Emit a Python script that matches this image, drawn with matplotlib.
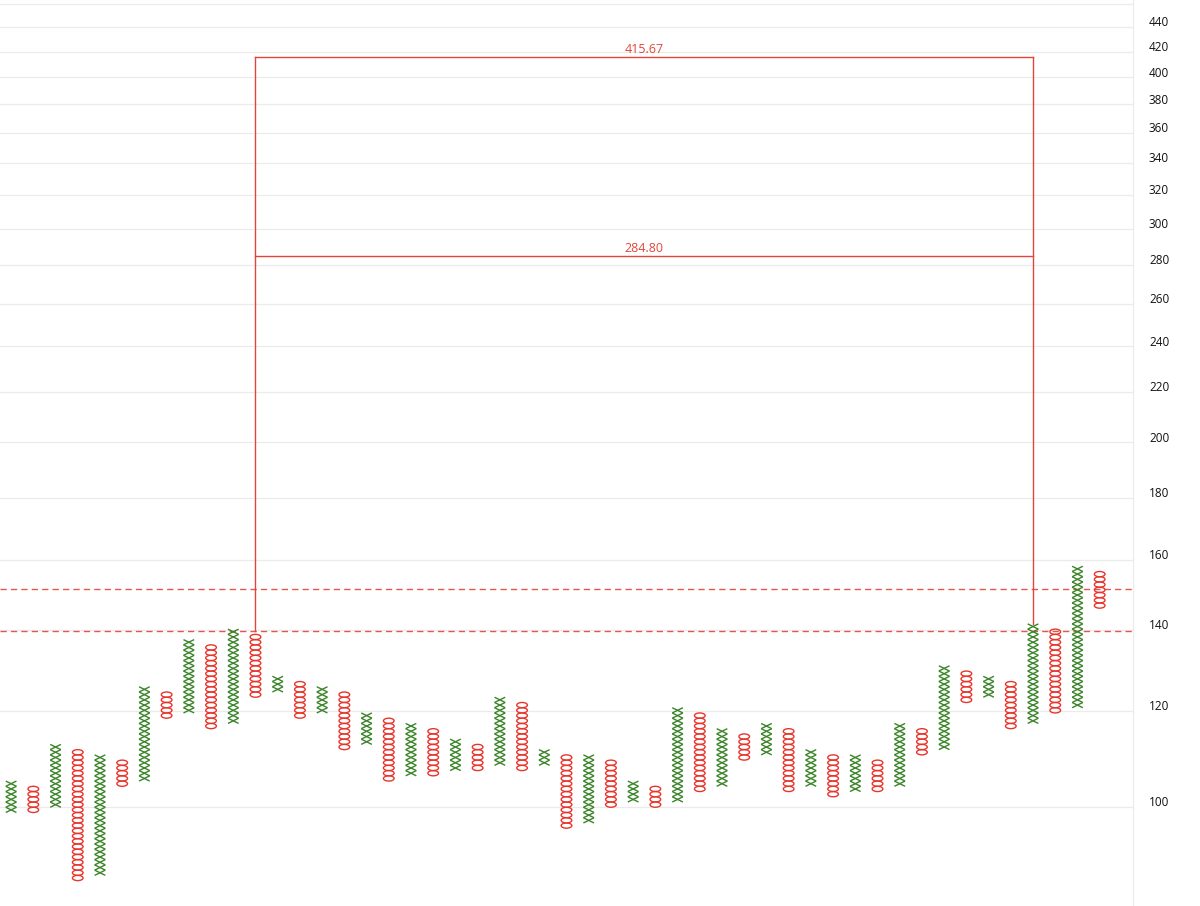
import matplotlib
matplotlib.use("Agg")
import matplotlib.pyplot as plt
import matplotlib.transforms as mtransforms
from matplotlib.collections import LineCollection, PatchCollection
from matplotlib.patches import Ellipse
from matplotlib.ticker import FixedLocator, FixedFormatter, NullLocator

# Configuración del gráfico de punto y figura (caja 1%, base 100)
BASE_PRICE = 100.0
BOX_PCT = 0.01

# Columnas: tipo, caja inferior y caja superior (índices de caja)
col_kind = ['X', 'O'] * 25
col_low = [-1, -1, 0, -14, -13, 4, 5, 17, 18, 15,
           16, 21, 22, 17, 18, 11, 12, 5, 6, 6,
           7, 7, 8, 7, 8, -4, -3, 0, 1, 0,
           1, 3, 4, 9, 10, 3, 4, 2, 3, 3,
           4, 10, 11, 20, 21, 15, 16, 18, 19, 38]
col_high = [4, 3, 11, 10, 9, 8, 22, 21, 31, 30,
            33, 32, 24, 23, 22, 21, 17, 16, 15, 14,
            12, 11, 20, 19, 10, 9, 9, 8, 4, 3,
            18, 17, 14, 13, 15, 14, 10, 9, 9, 8,
            15, 14, 26, 25, 24, 23, 34, 33, 45, 44]

# Líneas de ruptura y objetivos de precio (conteo vertical)
breakout_levels = [139.7, 151.3]
target_values = [415.67, 284.80]
target_labels = ['415.67', '284.80']
count_cols = [11, 46]

# Eje de precios
tick_values = [100, 120, 140, 160, 180, 200, 220, 240, 260, 280, 300,
               320, 340, 360, 380, 400, 420, 440, 460]
tick_labels = ['100', '120', '140', '160', '180', '200', '220', '240', '260',
               '280', '300', '320', '340', '360', '380', '400', '420', '440', '']

X_COLOR = '#3a8428'
O_COLOR = '#e8352c'
LINE_COLOR = '#e2463b'
DASH_COLOR = '#e4574d'


def box_price(j):
    return BASE_PRICE * (1 + BOX_PCT) ** j


plt.rcParams['font.family'] = ['Open Sans', 'DejaVu Sans']

fig = plt.figure(figsize=(12, 9.06), dpi=100)
ax = fig.add_axes([0, 0, 1133 / 1200, 1])
ax.set_yscale('log')
ax.set_xlim(-0.5, 50.5)
ax.set_ylim(82.9, 463.3)

# Dibujar X y O
half_w = 0.24
x_segments = []
o_patches = []
for i, (kind, lo, hi) in enumerate(zip(col_kind, col_low, col_high)):
    for j in range(lo, hi + 1):
        p0 = box_price(j)
        p1 = box_price(j + 1)
        if kind == 'X':
            x_segments.append([(i - half_w, p0), (i + half_w, p1)])
            x_segments.append([(i - half_w, p1), (i + half_w, p0)])
        else:
            o_patches.append(Ellipse((i, (p0 + p1) / 2), 2 * half_w, p1 - p0))

ax.add_collection(LineCollection(x_segments, colors=X_COLOR, linewidths=1.0, zorder=3))
ax.add_collection(PatchCollection(o_patches, facecolor='none', edgecolor=O_COLOR,
                                  linewidths=1.0, zorder=3))

# Líneas discontinuas de ruptura
for level in breakout_levels:
    ax.axhline(level, color=DASH_COLOR, lw=1.0, ls=(0, (4.5, 3)), zorder=2)

# Conteo vertical: líneas verticales y horizontales con etiquetas
left_col, right_col = count_cols
right_bottom = box_price(col_high[right_col] + 1)
top_target = max(target_values)
ax.plot([left_col, left_col], [breakout_levels[0], top_target], color=LINE_COLOR, lw=1.0, zorder=2)
ax.plot([right_col, right_col], [right_bottom, top_target], color=LINE_COLOR, lw=1.0, zorder=2)
for value, label in zip(target_values, target_labels):
    ax.plot([left_col, right_col], [value, value], color=LINE_COLOR, lw=1.0, zorder=2)
    ax.annotate(label, xy=((left_col + right_col) / 2, value), xytext=(0, 0.8),
                textcoords='offset points', ha='center', va='bottom',
                color=LINE_COLOR, fontsize=9)

# Ejes y cuadrícula
ax.yaxis.tick_right()
ax.yaxis.set_major_locator(FixedLocator(tick_values))
ax.yaxis.set_major_formatter(FixedFormatter(tick_labels))
ax.yaxis.set_minor_locator(NullLocator())
ax.set_xticks([])
ax.tick_params(axis='y', length=0, pad=11.5, labelsize=8.5, labelcolor='#111111')
ax.grid(True, axis='y', color='#ebebeb', lw=0.9)
ax.set_axisbelow(True)

offset = mtransforms.ScaledTranslation(0, 5.8 / 100, fig.dpi_scale_trans)
for lab in ax.get_yticklabels():
    lab.set_transform(lab.get_transform() + offset)

for side in ['top', 'left', 'bottom']:
    ax.spines[side].set_visible(False)
ax.spines['right'].set_color('#ececec')
ax.spines['right'].set_linewidth(0.9)

fig.savefig('out.png', dpi=100)
